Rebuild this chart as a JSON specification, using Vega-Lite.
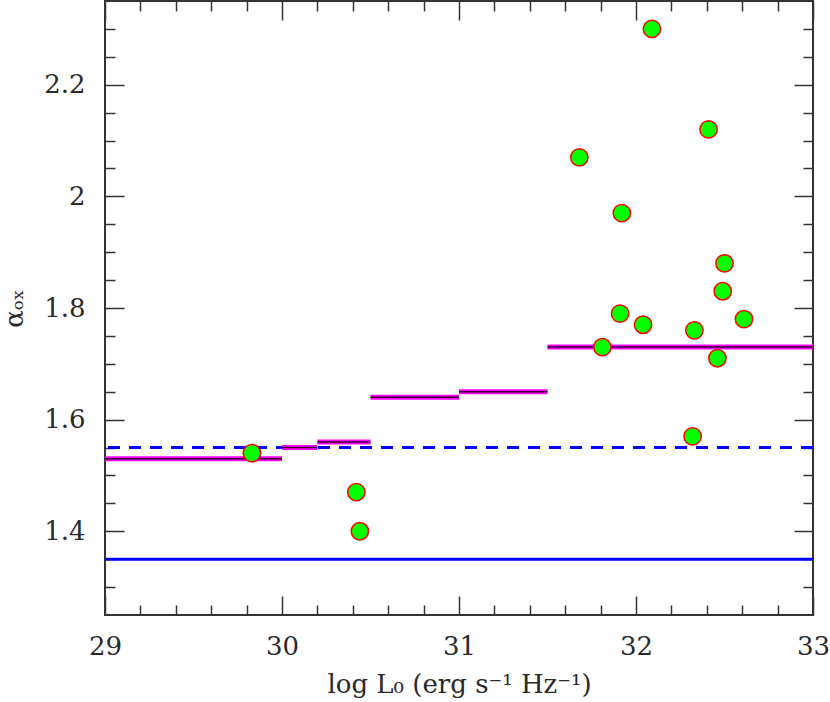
{
  "$schema": "https://vega.github.io/schema/vega-lite/v6.json",
  "width": 708,
  "height": 614,
  "autosize": {"type": "none"},
  "padding": {"left": 105, "top": 1, "right": 17, "bottom": 87},
  "background": "white",
  "config": {
    "view": {"stroke": "#333333", "strokeWidth": 2},
    "axis": {
      "labelFont": "DejaVu Serif",
      "titleFont": "DejaVu Serif",
      "labelFontSize": 26,
      "titleFontSize": 26,
      "labelColor": "#2a2a2a",
      "titleColor": "#2a2a2a",
      "titleFontWeight": "normal",
      "tickColor": "#333333",
      "tickWidth": 1.5,
      "labelFlush": false,
      "labelOverlap": false,
      "domain": false,
      "grid": false
    }
  },
  "datasets": {
    "points": [
      {"logL": 29.83, "aox": 1.54},
      {"logL": 30.42, "aox": 1.47},
      {"logL": 30.44, "aox": 1.40},
      {"logL": 31.68, "aox": 2.07},
      {"logL": 31.81, "aox": 1.73},
      {"logL": 31.91, "aox": 1.79},
      {"logL": 31.92, "aox": 1.97},
      {"logL": 32.04, "aox": 1.77},
      {"logL": 32.09, "aox": 2.30},
      {"logL": 32.32, "aox": 1.57},
      {"logL": 32.33, "aox": 1.76},
      {"logL": 32.41, "aox": 2.12},
      {"logL": 32.46, "aox": 1.71},
      {"logL": 32.49, "aox": 1.83},
      {"logL": 32.50, "aox": 1.88},
      {"logL": 32.61, "aox": 1.78}
    ],
    "bins": [
      {"lo": 29.0, "hi": 30.0, "aox": 1.53},
      {"lo": 30.0, "hi": 30.2, "aox": 1.55},
      {"lo": 30.2, "hi": 30.5, "aox": 1.56},
      {"lo": 30.5, "hi": 31.0, "aox": 1.64},
      {"lo": 31.0, "hi": 31.5, "aox": 1.65},
      {"lo": 31.5, "hi": 33.0, "aox": 1.73}
    ],
    "refs": [
      {"aox": 1.55, "kind": "dashed"},
      {"aox": 1.35, "kind": "solid"}
    ]
  },
  "resolve": {"axis": {"x": "independent", "y": "independent"}},
  "layer": [
    {
      "data": {"name": "refs"},
      "transform": [{"filter": "datum.kind === 'solid'"}],
      "mark": {"type": "rule", "color": "#0000ff", "strokeWidth": 3},
      "encoding": {
        "y": {"field": "aox", "type": "quantitative", "scale": {"domain": [1.25, 2.35], "nice": false, "zero": false},
          "axis": {"orient": "left", "values": [1.4, 1.6, 1.8, 2.0, 2.2], "tickSize": -19, "labelPadding": 39, "labelExpr": "'' + datum.value", "title": "αₒₓ", "titlePadding": 16}}
      }
    },
    {
      "data": {"name": "refs"},
      "transform": [{"filter": "datum.kind === 'dashed'"}],
      "mark": {"type": "rule", "color": "#0000ff", "strokeWidth": 3, "strokeDash": [12, 9]},
      "encoding": {
        "y": {"field": "aox", "type": "quantitative",
          "axis": {"orient": "left", "values": [1.3, 1.35, 1.45, 1.5, 1.55, 1.65, 1.7, 1.75, 1.85, 1.9, 1.95, 2.05, 2.1, 2.15, 2.25, 2.3], "tickSize": -10, "labels": false, "title": null}}
      }
    },
    {
      "data": {"name": "bins"},
      "mark": {"type": "rule", "color": "#ff00ff", "strokeWidth": 5},
      "encoding": {
        "x": {"field": "lo", "type": "quantitative", "scale": {"domain": [29, 33], "nice": false, "zero": false},
          "axis": {"orient": "bottom", "values": [29, 30, 31, 32, 33], "tickSize": -19, "labelPadding": 37, "title": "log L₀ (erg s⁻¹ Hz⁻¹)", "titlePadding": 12}},
        "x2": {"field": "hi"},
        "y": {"field": "aox", "type": "quantitative",
          "axis": {"orient": "right", "values": [1.4, 1.6, 1.8, 2.0, 2.2], "tickSize": -19, "labels": false, "title": null}}
      }
    },
    {
      "data": {"name": "bins"},
      "mark": {"type": "rule", "color": "#3a0030", "strokeWidth": 1.5},
      "encoding": {
        "x": {"field": "lo", "type": "quantitative",
          "axis": {"orient": "bottom", "values": [29.2, 29.4, 29.6, 29.8, 30.2, 30.4, 30.6, 30.8, 31.2, 31.4, 31.6, 31.8, 32.2, 32.4, 32.6, 32.8], "tickSize": -10, "labels": false, "title": null}},
        "x2": {"field": "hi"},
        "y": {"field": "aox", "type": "quantitative",
          "axis": {"orient": "right", "values": [1.3, 1.35, 1.45, 1.5, 1.55, 1.65, 1.7, 1.75, 1.85, 1.9, 1.95, 2.05, 2.1, 2.15, 2.25, 2.3], "tickSize": -10, "labels": false, "title": null}}
      }
    },
    {
      "data": {"name": "points"},
      "mark": {"type": "point", "shape": "circle", "filled": true, "fill": "#00ff00", "stroke": "#ff0000", "strokeWidth": 1.5, "size": 300, "opacity": 1},
      "encoding": {
        "x": {"field": "logL", "type": "quantitative",
          "axis": {"orient": "top", "values": [29, 30, 31, 32, 33], "tickSize": -19, "labels": false, "title": null}},
        "y": {"field": "aox", "type": "quantitative", "axis": null}
      }
    },
    {
      "data": {"name": "bins"},
      "mark": {"type": "tick", "opacity": 0},
      "encoding": {
        "x": {"field": "lo", "type": "quantitative",
          "axis": {"orient": "top", "values": [29.2, 29.4, 29.6, 29.8, 30.2, 30.4, 30.6, 30.8, 31.2, 31.4, 31.6, 31.8, 32.2, 32.4, 32.6, 32.8], "tickSize": -10, "labels": false, "title": null}},
        "y": {"field": "aox", "type": "quantitative", "axis": null}
      }
    }
  ]
}
